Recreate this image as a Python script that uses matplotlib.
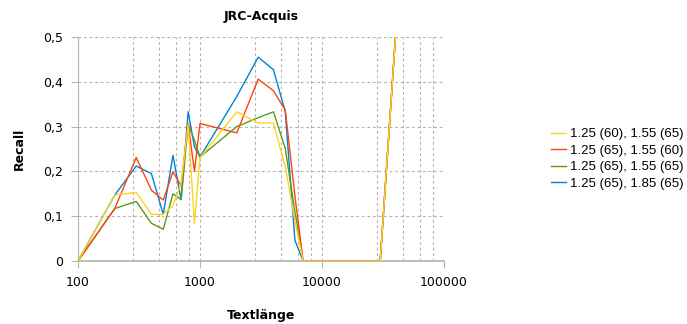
import matplotlib.pyplot as plt
from matplotlib.ticker import FixedLocator, FuncFormatter, NullFormatter

# Textlänge (Zeichen) und Recall je Parametersatz
textlaenge = [100, 200, 300, 400, 500, 600, 700, 800, 900, 1000, 2000, 3000,
              4000, 5000, 6000, 7000, 8000, 9000, 10000, 20000, 30000, 40000]
recall_60_65 = [0, 0.147, 0.153, 0.104, 0.104, 0.124, 0.172, 0.305, 0.084, 0.230,
                0.333, 0.308, 0.308, 0.210, 0.090, 0, 0, 0, 0, 0, 0, 0.5]
recall_65_60 = [0, 0.117, 0.231, 0.158, 0.136, 0.199, 0.168, 0.307, 0.200, 0.307,
                0.286, 0.406, 0.380, 0.337, 0.145, 0, 0, 0, 0, 0, 0, 0.5]
recall_65_65 = [0, 0.117, 0.133, 0.084, 0.071, 0.150, 0.137, 0.305, 0.270, 0.232,
                0.300, 0.320, 0.333, 0.251, 0.110, 0, 0, 0, 0, 0, 0, 0.5]
recall_185 = [0, 0.147, 0.212, 0.195, 0.104, 0.236, 0.137, 0.333, 0.255, 0.232,
              0.367, 0.455, 0.427, 0.333, 0.046, 0, 0, 0, 0, 0, 0, 0.5]

labels = ['1.25 (60), 1.55 (65)', '1.25 (65), 1.55 (60)',
          '1.25 (65), 1.55 (65)', '1.25 (65), 1.85 (65)']
colors = ['#FFD320', '#FF420E', '#579D1C', '#0084D1']
series = [recall_60_65, recall_65_60, recall_65_65, recall_185]

fig = plt.figure(figsize=(6.87, 3.24), dpi=100)
ax = fig.add_axes([78 / 687, 63 / 324, 366 / 687, 224 / 324])

# gelb zuletzt zeichnen, damit es oben liegt
lines = {}
for i in [3, 2, 1, 0]:
    ln, = ax.plot(textlaenge, series[i], color=colors[i], lw=1.0, label=labels[i],
                  zorder=3 + (3 - i))
    lines[i] = ln

ax.set_xscale('log')
ax.set_xlim(100, 100000)
ax.set_ylim(0, 0.5)

# Hilfslinien: Dekaden in fünf lineare Schritte geteilt
minor = [m * 10 ** e for e in (2, 3, 4) for m in (2.8, 4.6, 6.4, 8.2)]
ax.xaxis.set_major_locator(FixedLocator([100, 1000, 10000, 100000]))
ax.xaxis.set_minor_locator(FixedLocator(minor))
ax.xaxis.set_minor_formatter(NullFormatter())
ax.xaxis.set_major_formatter(FuncFormatter(lambda v, p: f'{int(round(v))}'))
ax.set_yticks([0, 0.1, 0.2, 0.3, 0.4, 0.5])
ax.yaxis.set_major_formatter(FuncFormatter(lambda v, p: '0' if v == 0 else f'{v:.1f}'.replace('.', ',')))

grid_kw = dict(color='#b3b3b3', lw=0.8, linestyle=(0, (2.5, 2.5)))
ax.grid(True, which='major', axis='both', **grid_kw)
ax.grid(True, which='minor', axis='x', **grid_kw)

for side in ['top', 'right']:
    ax.spines[side].set_visible(False)
ax.spines['left'].set_color('#b3b3b3')
ax.spines['bottom'].set_color('#b3b3b3')
ax.spines['bottom'].set_linewidth(1.2)
ax.tick_params(axis='both', which='major', colors='#b3b3b3', length=5, width=0.8,
               labelcolor='black', labelsize=9, pad=6)
ax.tick_params(axis='x', which='minor', length=0)

ax.set_title('JRC-Acquis', fontsize=9, fontweight='bold', pad=12)
ax.set_xlabel('Textlänge', fontsize=9, fontweight='bold', labelpad=14)
ax.set_ylabel('Recall', fontsize=9, fontweight='bold', labelpad=12)

fig.legend([lines[i] for i in range(4)], labels, loc='center left',
           bbox_to_anchor=(551 / 687, 1 - 159 / 324), frameon=False,
           borderpad=0, borderaxespad=0,
           prop={'family': 'Liberation Sans', 'size': 9.5},
           handlelength=1.1, handletextpad=0.35, labelspacing=0.33)

fig.savefig('out.png', dpi=100)
